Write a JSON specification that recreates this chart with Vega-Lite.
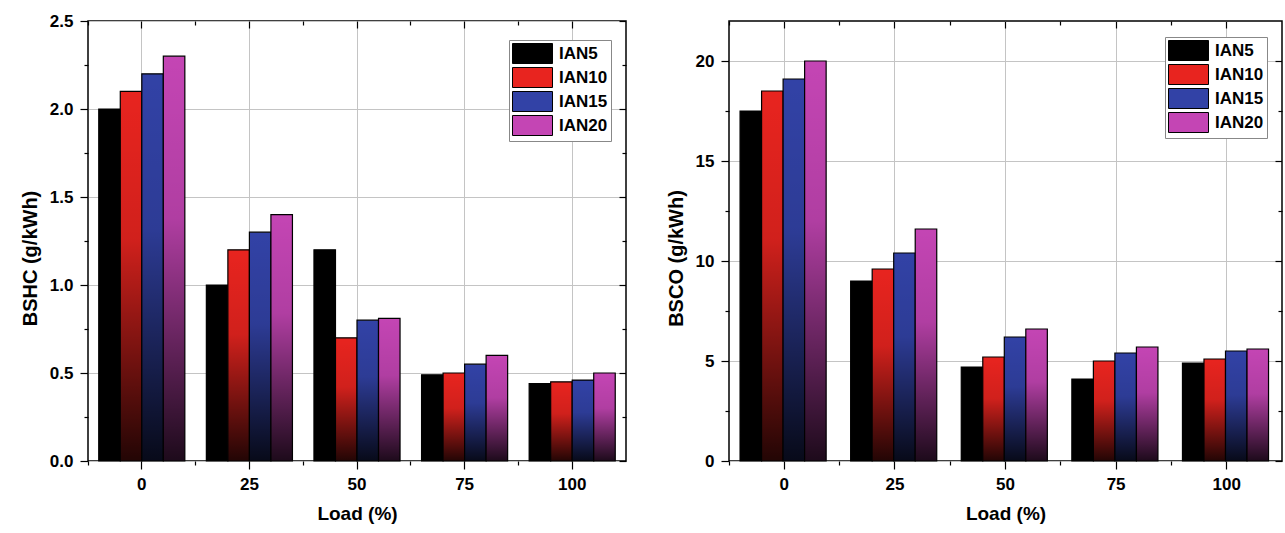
{
  "$schema": "https://vega.github.io/schema/vega-lite/v6.json",
  "padding": {"left": 19, "top": 11, "right": 5, "bottom": 5},
  "spacing": 37,
  "datasets": {
    "bshc": [
      {"load": 0, "series": "IAN5", "value": 2.0},
      {"load": 0, "series": "IAN10", "value": 2.1},
      {"load": 0, "series": "IAN15", "value": 2.2},
      {"load": 0, "series": "IAN20", "value": 2.3},
      {"load": 25, "series": "IAN5", "value": 1.0},
      {"load": 25, "series": "IAN10", "value": 1.2},
      {"load": 25, "series": "IAN15", "value": 1.3},
      {"load": 25, "series": "IAN20", "value": 1.4},
      {"load": 50, "series": "IAN5", "value": 1.2},
      {"load": 50, "series": "IAN10", "value": 0.7},
      {"load": 50, "series": "IAN15", "value": 0.8},
      {"load": 50, "series": "IAN20", "value": 0.81},
      {"load": 75, "series": "IAN5", "value": 0.49},
      {"load": 75, "series": "IAN10", "value": 0.5},
      {"load": 75, "series": "IAN15", "value": 0.55},
      {"load": 75, "series": "IAN20", "value": 0.6},
      {"load": 100, "series": "IAN5", "value": 0.44},
      {"load": 100, "series": "IAN10", "value": 0.45},
      {"load": 100, "series": "IAN15", "value": 0.46},
      {"load": 100, "series": "IAN20", "value": 0.5}
    ],
    "bsco": [
      {"load": 0, "series": "IAN5", "value": 17.5},
      {"load": 0, "series": "IAN10", "value": 18.5},
      {"load": 0, "series": "IAN15", "value": 19.1},
      {"load": 0, "series": "IAN20", "value": 20.0},
      {"load": 25, "series": "IAN5", "value": 9.0},
      {"load": 25, "series": "IAN10", "value": 9.6},
      {"load": 25, "series": "IAN15", "value": 10.4},
      {"load": 25, "series": "IAN20", "value": 11.6},
      {"load": 50, "series": "IAN5", "value": 4.7},
      {"load": 50, "series": "IAN10", "value": 5.2},
      {"load": 50, "series": "IAN15", "value": 6.2},
      {"load": 50, "series": "IAN20", "value": 6.6},
      {"load": 75, "series": "IAN5", "value": 4.1},
      {"load": 75, "series": "IAN10", "value": 5.0},
      {"load": 75, "series": "IAN15", "value": 5.4},
      {"load": 75, "series": "IAN20", "value": 5.7},
      {"load": 100, "series": "IAN5", "value": 4.9},
      {"load": 100, "series": "IAN10", "value": 5.1},
      {"load": 100, "series": "IAN15", "value": 5.5},
      {"load": 100, "series": "IAN20", "value": 5.6}
    ]
  },
  "hconcat": [
    {
      "width": 538,
      "height": 440,
      "data": {"name": "bshc"},
      "encoding": {
        "xOffset": {"field": "series", "type": "nominal", "sort": ["IAN5", "IAN10", "IAN15", "IAN20"], "scale": {"paddingInner": 0, "paddingOuter": 0}}
      },
      "layer": [
        {
          "mark": {"type": "bar", "stroke": "black", "strokeWidth": 1.2},
          "encoding": {
            "x": {"field": "load", "type": "ordinal", "scale": {"paddingInner": 0.2, "paddingOuter": 0.1},
              "axis": {"orient": "bottom", "title": "Load (%)", "labelAngle": 0, "bandPosition": 0.5, "grid": true, "tickSize": 8, "labelPadding": 7, "titlePadding": 12, "titleFontSize": 19}},
            "y": {"field": "value", "type": "quantitative", "scale": {"domain": [0, 2.5], "nice": false},
              "axis": {"orient": "left", "title": "BSHC (g/kWh)", "values": [0, 0.5, 1, 1.5, 2, 2.5], "format": ".1f", "grid": true, "tickSize": 8, "labelPadding": 7, "titlePadding": 9, "titleFontSize": 20, "titleY": 237}},
            "color": {"field": "series", "type": "nominal",
              "scale": {"domain": ["IAN5", "IAN10", "IAN15", "IAN20"], "range": ["#000000", "#e8241f", "#3242a6", "#c445b4"]},
              "legend": {"orient": "none", "legendX": 421, "legendY": 19, "title": null}}
          }
        },
        {
          "mark": {"type": "bar", "strokeWidth": 0, "fill": {"gradient": "linear", "x1": 0, "y1": 0, "x2": 0, "y2": 1, "stops": [{"offset": 0, "color": "rgba(0,0,0,0)"}, {"offset": 0.4, "color": "rgba(0,0,0,0.1)"}, {"offset": 1, "color": "rgba(0,0,0,0.85)"}]}},
          "encoding": {
            "x": {"field": "load", "type": "ordinal", "axis": {"orient": "top", "labels": false, "title": null, "grid": false, "bandPosition": 0.5, "tickSize": -7}},
            "y": {"field": "value", "type": "quantitative", "axis": {"orient": "right", "labels": false, "title": null, "grid": false, "values": [0, 0.5, 1, 1.5, 2, 2.5], "tickSize": -7}}
          }
        },
        {
          "mark": {"type": "bar", "opacity": 0},
          "encoding": {
            "x": {"field": "load", "type": "ordinal", "axis": {"orient": "bottom", "labels": false, "title": null, "grid": false, "bandPosition": -0.125, "tickSize": 4}},
            "y": {"field": "value", "type": "quantitative", "axis": {"orient": "left", "labels": false, "title": null, "grid": false, "values": [0.25, 0.75, 1.25, 1.75, 2.25], "tickSize": 4}}
          }
        },
        {
          "mark": {"type": "bar", "opacity": 0},
          "encoding": {
            "x": {"field": "load", "type": "ordinal", "axis": {"orient": "top", "labels": false, "title": null, "grid": false, "bandPosition": -0.125, "tickSize": -4}},
            "y": {"field": "value", "type": "quantitative", "axis": {"orient": "right", "labels": false, "title": null, "grid": false, "values": [0.25, 0.75, 1.25, 1.75, 2.25], "tickSize": -4}}
          }
        }
      ],
      "resolve": {"axis": {"x": "independent", "y": "independent"}}
    },
    {
      "width": 553,
      "height": 440,
      "data": {"name": "bsco"},
      "encoding": {
        "xOffset": {"field": "series", "type": "nominal", "sort": ["IAN5", "IAN10", "IAN15", "IAN20"], "scale": {"paddingInner": 0, "paddingOuter": 0}}
      },
      "layer": [
        {
          "mark": {"type": "bar", "stroke": "black", "strokeWidth": 1.2},
          "encoding": {
            "x": {"field": "load", "type": "ordinal", "scale": {"paddingInner": 0.2, "paddingOuter": 0.1},
              "axis": {"orient": "bottom", "title": "Load (%)", "labelAngle": 0, "bandPosition": 0.5, "grid": true, "tickSize": 8, "labelPadding": 7, "titlePadding": 12, "titleFontSize": 19}},
            "y": {"field": "value", "type": "quantitative", "scale": {"domain": [0, 22], "nice": false},
              "axis": {"orient": "left", "title": "BSCO (g/kWh)", "values": [0, 5, 10, 15, 20], "grid": true, "tickSize": 8, "labelPadding": 7, "titlePadding": 9, "titleFontSize": 20, "titleY": 237}},
            "color": {"field": "series", "type": "nominal",
              "scale": {"domain": ["IAN5", "IAN10", "IAN15", "IAN20"], "range": ["#000000", "#e8241f", "#3242a6", "#c445b4"]},
              "legend": {"orient": "none", "legendX": 436, "legendY": 16, "title": null}}
          }
        },
        {
          "mark": {"type": "bar", "strokeWidth": 0, "fill": {"gradient": "linear", "x1": 0, "y1": 0, "x2": 0, "y2": 1, "stops": [{"offset": 0, "color": "rgba(0,0,0,0)"}, {"offset": 0.4, "color": "rgba(0,0,0,0.1)"}, {"offset": 1, "color": "rgba(0,0,0,0.85)"}]}},
          "encoding": {
            "x": {"field": "load", "type": "ordinal", "axis": {"orient": "top", "labels": false, "title": null, "grid": false, "bandPosition": 0.5, "tickSize": -7}},
            "y": {"field": "value", "type": "quantitative", "axis": {"orient": "right", "labels": false, "title": null, "grid": false, "values": [0, 5, 10, 15, 20], "tickSize": -7}}
          }
        },
        {
          "mark": {"type": "bar", "opacity": 0},
          "encoding": {
            "x": {"field": "load", "type": "ordinal", "axis": {"orient": "bottom", "labels": false, "title": null, "grid": false, "bandPosition": -0.125, "tickSize": 4}},
            "y": {"field": "value", "type": "quantitative", "axis": {"orient": "left", "labels": false, "title": null, "grid": false, "values": [2.5, 7.5, 12.5, 17.5], "tickSize": 4}}
          }
        },
        {
          "mark": {"type": "bar", "opacity": 0},
          "encoding": {
            "x": {"field": "load", "type": "ordinal", "axis": {"orient": "top", "labels": false, "title": null, "grid": false, "bandPosition": -0.125, "tickSize": -4}},
            "y": {"field": "value", "type": "quantitative", "axis": {"orient": "right", "labels": false, "title": null, "grid": false, "values": [2.5, 7.5, 12.5, 17.5], "tickSize": -4}}
          }
        }
      ],
      "resolve": {"axis": {"x": "independent", "y": "independent"}}
    }
  ],
  "resolve": {"scale": {"color": "independent"}},
  "config": {
    "font": "Liberation Sans",
    "view": {"stroke": "black", "strokeWidth": 1.5},
    "axis": {
      "domain": false,
      "labelFont": "Liberation Sans", "labelFontWeight": "bold", "labelFontSize": 17, "labelColor": "black",
      "titleFont": "Liberation Sans", "titleFontWeight": "bold", "titleFontSize": 19, "titleColor": "black",
      "tickColor": "black", "tickWidth": 1.2,
      "gridColor": "#c4c4c4", "gridWidth": 1
    },
    "legend": {
      "fillColor": "white", "strokeColor": "#888888", "padding": 3,
      "labelFont": "Liberation Sans", "labelFontWeight": "bold", "labelFontSize": 17, "labelColor": "black",
      "symbolType": "M-1,-1H3V1H-1Z", "symbolSize": 400, "symbolStrokeColor": "black", "symbolStrokeWidth": 1, "symbolOpacity": 1,
      "labelOffset": 26, "rowPadding": -1
    }
  }
}
